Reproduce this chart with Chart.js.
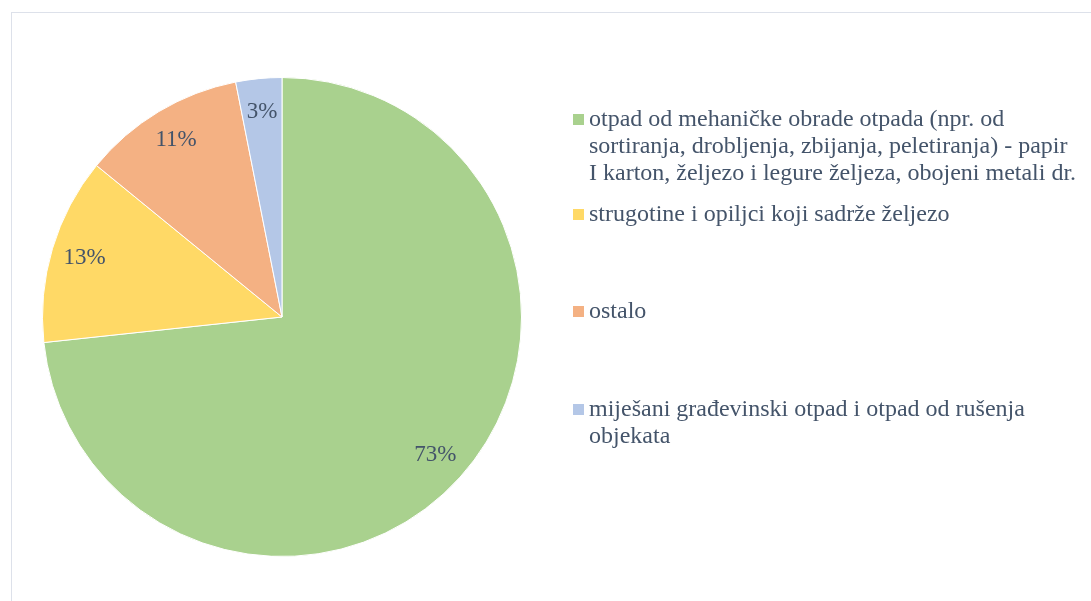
<!DOCTYPE html>
<html>
<head>
<meta charset="utf-8">
<script src="https://cdn.jsdelivr.net/npm/chart.js@4.4.1/dist/chart.umd.min.js"></script>
<style>
  html, body { margin: 0; padding: 0; background: #fff; }
  #wrap { position: relative; width: 1091px; height: 601px; overflow: hidden; }
  #frame { position: absolute; left: 11px; top: 12px; width: 1100px; height: 620px; border: 1px solid #dde1ea; box-sizing: border-box; }
  canvas { position: absolute; left: 0; top: 0; }
</style>
</head>
<body>
<div id="wrap">
  <div id="frame"></div>
  <canvas id="chart" width="1091" height="601"></canvas>
</div>
<script>
// --- Données ---
const categories = [
  'otpad od mehaničke obrade otpada (npr. od sortiranja, drobljenja, zbijanja, peletiranja) - papir I karton, željezo i legure željeza, obojeni metali dr.',
  'strugotine i opiljci koji sadrže željezo',
  'ostalo',
  'miješani građevinski otpad i otpad od rušenja objekata'
];
// lignes de légende telles qu'affichées
const legendLines = [
  ['otpad od mehaničke obrade otpada (npr. od', 'sortiranja, drobljenja, zbijanja, peletiranja) - papir', 'I karton, željezo i legure željeza, obojeni metali dr.'],
  ['strugotine i opiljci koji sadrže željezo'],
  ['ostalo'],
  ['miješani građevinski otpad i otpad od rušenja', 'objekata']
];
const values = [73.3, 12.6, 11.0, 3.1];
const colors = ['#a9d18e', '#ffd966', '#f4b183', '#b4c7e7'];

const textColor = '#44546a';
const serif = '"Liberation Serif", "Times New Roman", serif';

// étiquettes de pourcentage à l'intérieur des parts
const pctLabels = {
  id: 'pctLabels',
  afterDatasetsDraw(chart) {
    const ctx = chart.ctx;
    const total = values.reduce((a, b) => a + b, 0);
    ctx.save();
    ctx.font = '23px ' + serif;
    ctx.fillStyle = textColor;
    ctx.textAlign = 'center';
    ctx.textBaseline = 'middle';
    chart.getDatasetMeta(0).data.forEach((arc, i) => {
      const mid = (arc.startAngle + arc.endAngle) / 2;
      const r = arc.outerRadius * 0.86;
      const x = arc.x + Math.cos(mid) * r;
      const y = arc.y + Math.sin(mid) * r;
      ctx.fillText(Math.round(values[i] / total * 100) + '%', x, y);
    });
    ctx.restore();
  }
};

// légende à droite, texte sur plusieurs lignes
const sideLegend = {
  id: 'sideLegend',
  afterDraw(chart) {
    const ctx = chart.ctx;
    const firstBaselines = [126, 221, 318, 416];
    const lineH = 27;
    ctx.save();
    ctx.font = '24px ' + serif;
    ctx.textBaseline = 'alphabetic';
    ctx.textAlign = 'left';
    legendLines.forEach((lines, i) => {
      const by = firstBaselines[i];
      ctx.fillStyle = colors[i];
      ctx.fillRect(573, by - 12, 11, 11);
      ctx.fillStyle = textColor;
      lines.forEach((t, j) => ctx.fillText(t, 589, by + j * lineH));
    });
    ctx.restore();
  }
};

new Chart(document.getElementById('chart'), {
  type: 'pie',
  data: {
    labels: categories,
    datasets: [{
      data: values,
      backgroundColor: colors,
      borderColor: '#ffffff',
      borderWidth: 1
    }]
  },
  options: {
    responsive: false,
    animation: false,
    rotation: 0,
    layout: { padding: { left: 42, right: 569, top: 77, bottom: 44 } },
    plugins: {
      legend: { display: false },
      tooltip: { enabled: false }
    }
  },
  plugins: [pctLabels, sideLegend]
});
</script>
</body>
</html>
